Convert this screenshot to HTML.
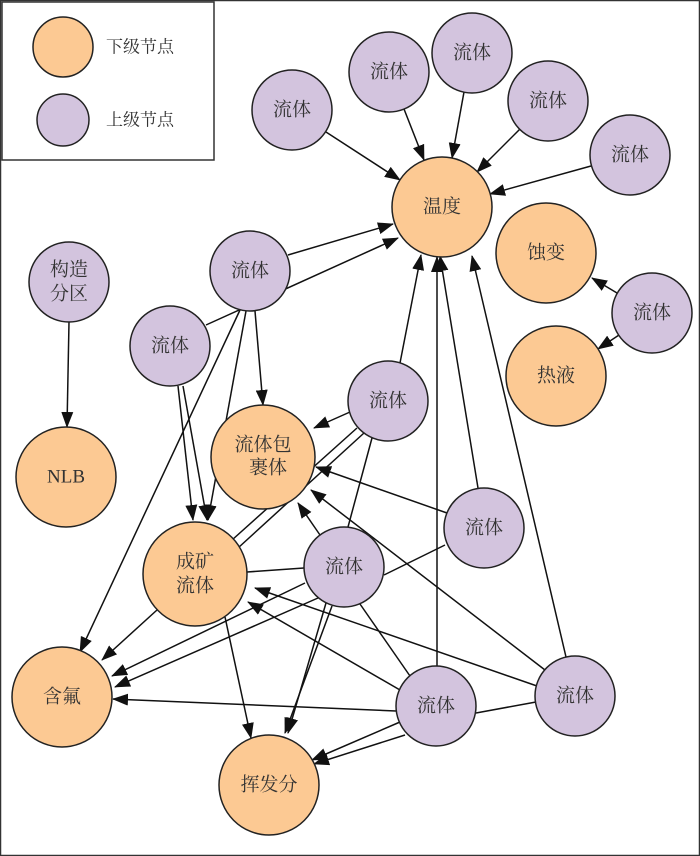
<!DOCTYPE html>
<html><head><meta charset="utf-8"><style>
html,body{margin:0;padding:0;background:#fff}
svg{display:block}
text{font-family:"Liberation Serif","Noto Serif CJK SC",serif;font-size:19px;fill:#333;text-anchor:middle;dominant-baseline:central}
</style></head><body>
<svg width="700" height="856" viewBox="0 0 700 856" xmlns="http://www.w3.org/2000/svg">
<defs><marker id="a" markerWidth="16" markerHeight="12" refX="15" refY="6" orient="auto" markerUnits="userSpaceOnUse"><path d="M0,0 L16,6 L0,12 z" fill="#111"/></marker></defs>
<rect x="0.5" y="0.5" width="699" height="855" fill="#fff" stroke="#333" stroke-width="1.5"/>
<rect x="2" y="2" width="212" height="158" fill="#fff" stroke="#333" stroke-width="1.5"/>
<g stroke="#111" stroke-width="1.5" fill="none">
<g marker-end="url(#a)">
<line x1="326" y1="132" x2="400" y2="180"/>
<line x1="404" y1="109" x2="424" y2="160"/>
<line x1="464" y1="92" x2="452" y2="158"/>
<line x1="520" y1="129" x2="477" y2="172"/>
<line x1="591" y1="166" x2="490" y2="194"/>
<line x1="617" y1="293" x2="592" y2="278"/>
<line x1="619" y1="335" x2="598" y2="349"/>
<line x1="69" y1="322" x2="67" y2="427"/>
<line x1="288" y1="255" x2="393" y2="224"/>
<line x1="206" y1="325" x2="398" y2="238"/>
<line x1="255" y1="311" x2="263" y2="405"/>
<line x1="240" y1="310" x2="80" y2="652"/>
<line x1="246" y1="311" x2="208" y2="520"/>
<line x1="178" y1="386" x2="193" y2="520"/>
<line x1="183" y1="386" x2="207" y2="520"/>
<line x1="400" y1="363" x2="421" y2="255"/>
<line x1="350" y1="412" x2="314" y2="428"/>
<line x1="478" y1="488" x2="440" y2="256"/>
<line x1="447" y1="513" x2="316" y2="467"/>
<line x1="320" y1="535" x2="298" y2="503"/>
<line x1="305" y1="583" x2="112" y2="676"/>
<line x1="318" y1="598" x2="115" y2="687"/>
<line x1="326" y1="603" x2="288" y2="733"/>
<line x1="332" y1="606" x2="285" y2="733"/>
<line x1="157" y1="610" x2="102" y2="660"/>
<line x1="225" y1="617" x2="251" y2="738"/>
<line x1="437" y1="666" x2="437" y2="257"/>
<line x1="396" y1="711" x2="113" y2="699"/>
<line x1="400" y1="722" x2="312" y2="760"/>
<line x1="405" y1="735" x2="314" y2="764"/>
<line x1="400" y1="690" x2="248" y2="602"/>
<line x1="566" y1="657" x2="472" y2="256"/>
<line x1="545" y1="670" x2="311" y2="490"/>
<line x1="537" y1="686" x2="255" y2="588"/>
</g>
<line x1="232" y1="540" x2="357" y2="428"/>
<line x1="238" y1="548" x2="364" y2="433"/>
<line x1="445" y1="545" x2="384" y2="575"/>
<line x1="247" y1="572" x2="304" y2="568"/>
<line x1="410" y1="676" x2="360" y2="604"/>
<line x1="476" y1="713" x2="536" y2="702"/>
<line x1="372" y1="438" x2="348" y2="527"/>
</g>
<g stroke="#222" stroke-width="1.5">
<circle cx="63" cy="47" r="30" fill="#FCC993"/>
<circle cx="63" cy="120" r="26" fill="#D3C4DE"/>
<g fill="#FCC993">
<circle cx="442" cy="207" r="50"/><circle cx="546" cy="253" r="50"/><circle cx="556" cy="376" r="50"/>
<circle cx="66" cy="477" r="50"/><circle cx="263" cy="457" r="52"/><circle cx="195" cy="574" r="52"/>
<circle cx="62" cy="697" r="50"/><circle cx="269" cy="785" r="50"/>
</g>
<g fill="#D3C4DE">
<circle cx="292" cy="110" r="40"/><circle cx="389" cy="72" r="40"/><circle cx="472" cy="53" r="40"/>
<circle cx="548" cy="101" r="40"/><circle cx="630" cy="155" r="40"/><circle cx="652" cy="313" r="40"/>
<circle cx="69" cy="282" r="40"/><circle cx="250" cy="271" r="40"/><circle cx="170" cy="346" r="40"/>
<circle cx="388" cy="401" r="40"/><circle cx="484" cy="528" r="40"/><circle cx="344" cy="567" r="40"/>
<circle cx="436" cy="706" r="40"/><circle cx="575" cy="696" r="40"/>
</g>
</g>
<text x="140" y="47" style="font-size:17px">下级节点</text>
<text x="140" y="120" style="font-size:17px">上级节点</text>
<text x="442" y="207">温度</text><text x="546" y="253">蚀变</text><text x="556" y="376">热液</text>
<text x="66" y="477">NLB</text>
<text x="263" y="445">流体包</text><text x="268" y="468">裹体</text>
<text x="195" y="562">成矿</text><text x="195" y="586">流体</text>
<text x="62" y="697">含氟</text><text x="269" y="785">挥发分</text>
<text x="69" y="270">构造</text><text x="69" y="294">分区</text>
<text x="292" y="110">流体</text><text x="389" y="72">流体</text><text x="472" y="53">流体</text>
<text x="548" y="101">流体</text><text x="630" y="155">流体</text><text x="652" y="313">流体</text>
<text x="250" y="271">流体</text><text x="170" y="346">流体</text><text x="388" y="401">流体</text>
<text x="484" y="528">流体</text><text x="344" y="567">流体</text><text x="436" y="706">流体</text>
<text x="575" y="696">流体</text>
</svg>
</body></html>
